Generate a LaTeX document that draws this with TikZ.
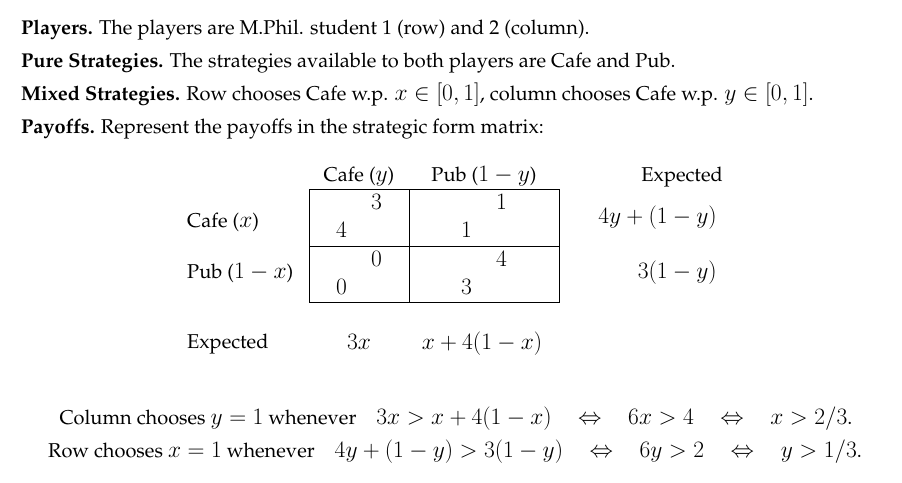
\RequirePackage{fix-cm}
\documentclass[tikz,border=0pt]{standalone}
\usepackage[T1]{fontenc}
\usepackage{palatino}
\usepackage{amsmath}
\DeclareMathSizes{20}{23.5}{16.5}{12}

\begin{document}
\begin{tikzpicture}
  [x=1pt,y=-1pt,every node/.style={inner sep=0pt,font=\fontsize{20}{24}\selectfont},
   lab/.style={anchor=base west},
   mid/.style={anchor=base}]
  \useasboundingbox (0,0) rectangle (902,482);
  % the four lines of text
  \node[lab] (players) at (21,34) {\textbf{Players.} The players are M.Phil. student 1 (row) and 2 (column).};
  \node[lab] (pure) at (21,67) {\textbf{Pure Strategies.} The strategies available to both players are Cafe and Pub.};
  \node[lab] (mixed) at (21,100) {\textbf{Mixed Strategies.} Row chooses Cafe w.p. $x\in[0,1]$, column chooses Cafe w.p. $y\in[0,1]$.};
  \node[lab] (payoffs) at (21,133) {\textbf{Payoffs.} Represent the payoffs in the strategic form matrix:};
  % the matrix
  \draw (309,189) rectangle (559,302);
  \draw (409,189) -- (409,302);
  \draw (309,246) -- (559,246);
  \node[mid] (cafey) at (359,181) {Cafe ($y$)};
  \node[mid] (puby) at (484,181) {Pub ($1-y$)};
  \node[lab] (cafex) at (187,227) {Cafe ($x$)};
  \node[lab] (pubx) at (187,278) {Pub ($1-x$)};
  \foreach \x/\y/\v in {376.5/209/3, 341.5/237/4, 501.5/209/1, 466.5/237/1,
                        376.5/266/0, 341.5/294/0, 501.5/266/4, 466.5/294/3}
    \node[mid] at (\x,\y) {$\v$};
  % expected payoffs
  \node[lab] (expx) at (187,348) {Expected};
  \node[mid] (ecafe) at (359,349) {$3x$};
  \node[mid] (epub) at (482,349) {$x+4(1-x)$};
  \node[anchor=base east] (expy) at (723,181) {Expected};
  \node[anchor=base east] (erow) at (717,223) {$4y+(1-y)$};
  \node[anchor=base east] (ecol) at (717,278) {$3(1-y)$};
  % best replies
  \node[mid] (colbr) at (456,424) {Column chooses $y=1$ whenever\quad $3x>x+4(1-x)\quad\Leftrightarrow\quad 6x>4\quad\Leftrightarrow\quad x>2/3$.};
  \node[mid] (rowbr) at (455,457) {Row chooses $x=1$ whenever\quad $4y+(1-y)>3(1-y)\quad\Leftrightarrow\quad 6y>2\quad\Leftrightarrow\quad y>1/3$.};
\end{tikzpicture}
\end{document}
